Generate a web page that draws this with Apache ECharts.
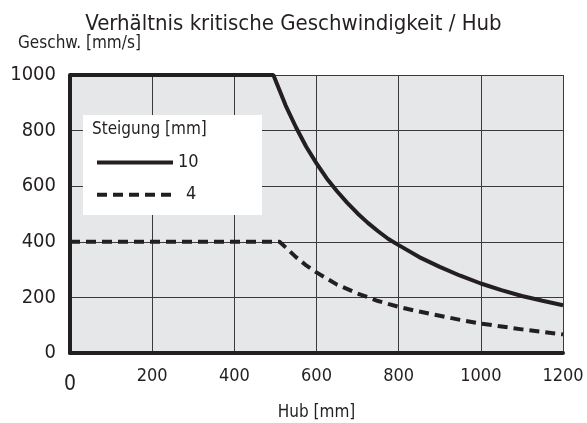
<!DOCTYPE html>
<html>
<head>
<meta charset="utf-8">
<script src="https://cdn.jsdelivr.net/npm/echarts@6/dist/echarts.min.js"></script>
<style>
  html, body { margin: 0; padding: 0; background: #fff; }
  #chart { width: 587px; height: 423px; }
</style>
</head>
<body>
<div id="chart"></div>
<script>
// Hub [mm] -> kritische Geschwindigkeit [mm/s]
const hub10 = [0, 495, 525, 550, 575, 600, 625, 650, 675, 700, 725, 750, 775, 800, 850, 900, 950, 1000, 1050, 1100, 1150, 1200]
const speed10 = [1000, 1000, 890, 812, 742, 682, 628, 582, 540, 502, 468, 438, 410, 388, 345, 310, 278, 250, 226, 205, 188, 172]
const hub4 = [0, 510, 525, 550, 575, 600, 650, 700, 750, 800, 850, 900, 950, 1000, 1100, 1200]
const speed4 = [400, 400, 380, 345, 315, 290, 246, 214, 187, 166, 149, 134, 119, 106, 85, 67]
const seriesNames = ['10', '4']

const font = '"Liberation Sans Narrow", "DejaVu Sans Condensed", sans-serif'
const ink = '#231f20'

function pairs(xs, ys) {
  return xs.map((x, i) => [x, ys[i]])
}

const chart = echarts.init(document.getElementById('chart'))
chart.setOption({
  animation: false,
  textStyle: { fontFamily: font, color: ink },
  title: {
    text: 'Verhältnis kritische Geschwindigkeit / Hub',
    left: 'center',
    top: 8,
    textStyle: { fontFamily: font, fontSize: 22, fontWeight: 'normal', color: ink }
  },
  graphic: [
    {
      type: 'text',
      left: 18,
      top: 35,
      style: { text: 'Geschw. [mm/s]', font: '17px ' + font, fill: ink }
    },
    {
      type: 'rect',
      shape: { x: 83, y: 115, width: 179, height: 100 },
      style: { fill: '#ffffff' },
      z: 5
    },
    {
      type: 'text',
      left: 92,
      top: 121,
      style: { text: 'Steigung [mm]', font: '17px ' + font, fill: ink },
      z: 6
    }
  ],
  legend: {
    orient: 'vertical',
    left: 90,
    top: 148,
    itemWidth: 76,
    itemHeight: 24,
    itemGap: 13,
    z: 7,
    data: seriesNames,
    itemStyle: { opacity: 0 },
    lineStyle: { width: 4 },
    formatter: name => (name.length < 2 ? '{p|' + name + '}' : name),
    textStyle: {
      fontFamily: font,
      fontSize: 18,
      color: ink,
      rich: { p: { fontFamily: font, fontSize: 18, color: ink, padding: [0, 0, 0, 8] } }
    }
  },
  grid: {
    left: 70,
    right: 24,
    top: 75,
    bottom: 70,
    outerBoundsMode: 'none',
    show: true,
    backgroundColor: '#e6e7e8',
    borderWidth: 0
  },
  xAxis: {
    type: 'value',
    min: 0,
    max: 1200,
    interval: 200,
    name: 'Hub [mm]',
    nameLocation: 'middle',
    nameGap: 51,
    nameTextStyle: { fontFamily: font, fontSize: 17, color: ink },
    axisLine: { lineStyle: { color: ink, width: 4 } },
    axisTick: { show: false },
    axisLabel: {
      margin: 14,
      fontSize: 18,
      color: ink,
      formatter: v => (v === 0 ? '{z|0}' : String(v)),
      rich: { z: { fontSize: 21, padding: [7, 0, 0, 0], fontFamily: font, color: ink } }
    },
    splitLine: { show: true, lineStyle: { color: '#3a3a3a', width: 1 } }
  },
  yAxis: {
    type: 'value',
    min: 0,
    max: 1000,
    interval: 200,
    axisLine: { show: true, lineStyle: { color: ink, width: 4 } },
    axisTick: { show: false },
    axisLabel: { margin: 14, fontSize: 20, color: ink, formatter: v => String(v) },
    splitLine: { show: true, lineStyle: { color: '#3a3a3a', width: 1 } }
  },
  series: [
    {
      name: seriesNames[0],
      type: 'line',
      data: pairs(hub10, speed10),
      symbol: 'none',
      lineStyle: { color: ink, width: 4 },
      itemStyle: { color: ink },
      z: 3
    },
    {
      name: seriesNames[1],
      type: 'line',
      data: pairs(hub4, speed4),
      symbol: 'none',
      lineStyle: { color: ink, width: 4, type: [10, 6] },
      itemStyle: { color: ink },
      z: 3
    }
  ]
})
</script>
</body>
</html>
